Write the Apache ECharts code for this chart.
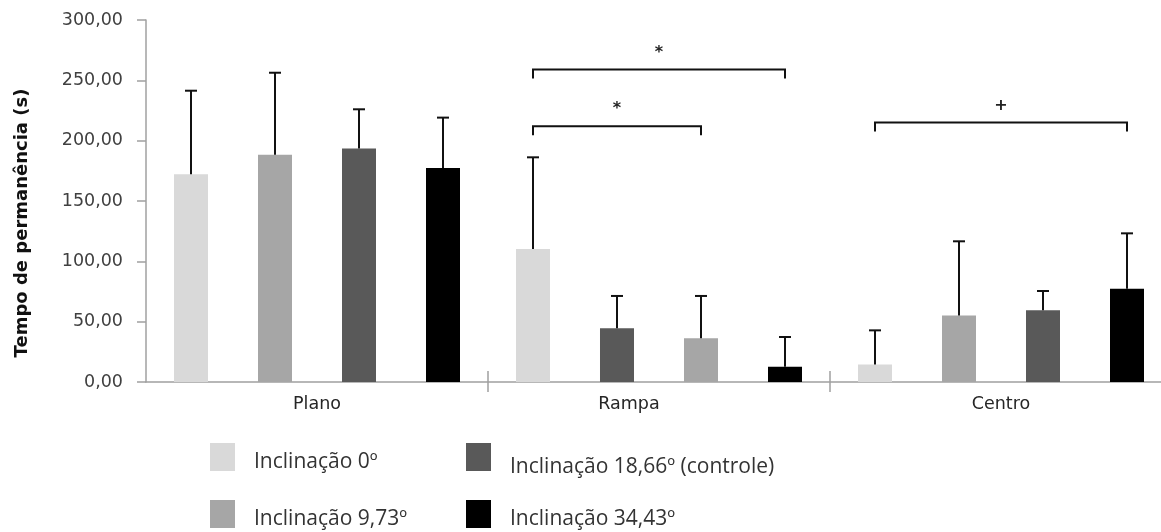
<!DOCTYPE html>
<html>
<head>
<meta charset="utf-8">
<script src="https://cdn.jsdelivr.net/npm/echarts@6/dist/echarts.min.js"></script>
<style>
  html, body { margin: 0; padding: 0; background: #ffffff; overflow: hidden; }
  #chart { width: 1172px; height: 532px; }
</style>
</head>
<body>
<div id="chart"></div>
<script>
// Arenas (categories) and inclinations
const categories = ['Plano', 'Rampa', 'Centro'];
const inclinations = ['Inclinação 0º', 'Inclinação 9,73º', 'Inclinação 18,66º (controle)', 'Inclinação 34,43º'];

// Mean time spent (s) per arena, one array per inclination
const mean0  = [172.1, 110.2, 14.4];
const mean9  = [188.4,  36.2, 55.2];
const mean18 = [193.6,  44.5, 59.4];
const mean34 = [177.3,  12.7, 77.3];

// Standard deviations (upper error bars)
const sd0  = [69.3, 76.0, 28.4];
const sd9  = [67.9, 35.1, 61.4];
const sd18 = [32.4, 26.8, 16.0];
const sd34 = [41.8, 24.6, 45.9];

// Which inclination sits in each bar slot, per arena
const slotOrder = [[0, 1, 2, 3], [0, 2, 1, 3], [0, 1, 2, 3]];

// Significance brackets: arena, first slot, last slot, bracket height (s), mark
const bracketArena = [1, 1, 2];
const bracketFrom  = [0, 0, 0];
const bracketTo    = [3, 2, 3];
const bracketLevel = [259, 212, 215];
const bracketMark  = ['*', '*', '+'];

// Y axis ticks
const yMin = 0, yMax = 300, yStep = 50;

const means = [mean0, mean9, mean18, mean34];
const sds = [sd0, sd9, sd18, sd34];
const palette = ['#d9d9d9', '#a6a6a6', '#595959', '#000000'];

const BAR_W = 34;
const GAP_PX = 50;
const STEP = BAR_W + GAP_PX;
function slotOffset(k) {
  const total = 4 * BAR_W + 3 * GAP_PX;
  return -total / 2 + BAR_W / 2 + k * STEP;
}

const barSeries = [0, 1, 2, 3].map(function (k) {
  return {
    type: 'bar',
    name: 'slot' + k,
    barWidth: BAR_W,
    barGap: (GAP_PX / BAR_W * 100).toFixed(2) + '%',
    data: categories.map(function (c, ci) {
      const inc = slotOrder[ci][k];
      return { value: means[inc][ci], itemStyle: { color: palette[inc] } };
    }),
    z: 2
  };
});

const errData = [];
categories.forEach(function (c, ci) {
  for (let k = 0; k < 4; k++) {
    const inc = slotOrder[ci][k];
    errData.push([ci, k, means[inc][ci], sds[inc][ci]]);
  }
});

const bracketData = bracketArena.map(function (a, i) {
  return [a, bracketFrom[i], bracketTo[i], bracketLevel[i], i];
});

const legendSeries = inclinations.map(function (name, i) {
  return { type: 'scatter', name: name, data: [], itemStyle: { color: palette[i], opacity: 1 } };
});

// Legend entries laid out as a 2 x 2 block under the plot
const legendPos = [[210, 443], [210, 500], [466, 443], [466, 500]];
const legendTextShift = [11, 11, 20, 11];
const legends = inclinations.map(function (name, i) {
  return {
    data: [name],
    left: legendPos[i][0],
    top: legendPos[i][1],
    padding: 0,
    icon: 'rect',
    itemWidth: 25,
    itemHeight: 28,
    selectedMode: false,
    formatter: '{t|{name}}',
    textStyle: {
      rich: {
        t: {
          fontFamily: 'Open Sans',
          fontSize: 21,
          color: '#333333',
          padding: [legendTextShift[i], 0, 0, 14]
        }
      }
    }
  };
});

// Boundary ticks between arenas, none at the axis origin
function skipFirstTick(index) { return index !== 0; }

const chart = echarts.init(document.getElementById('chart'), null, { renderer: 'canvas' });
chart.setOption({
  animation: false,
  backgroundColor: '#ffffff',
  grid: { left: 146, top: 20, width: 1026, height: 362, containLabel: false },
  legend: legends,
  xAxis: [
    {
      type: 'category',
      position: 'bottom',
      data: categories.map(function (c) {
        return c === 'Rampa' ? { value: c, textStyle: { padding: [0, 60, 0, 0] } } : c;
      }),
      axisLine: { lineStyle: { color: '#a0a0a0', width: 1.5 } },
      axisTick: { show: true, interval: skipFirstTick, length: 10, lineStyle: { color: '#a0a0a0', width: 1.5 } },
      axisLabel: { fontFamily: 'DejaVu Sans', fontSize: 17.5, color: '#262626', margin: 13 }
    },
    {
      type: 'category',
      position: 'bottom',
      data: categories,
      axisLine: { show: false },
      axisTick: { show: true, interval: skipFirstTick, inside: true, length: 11, lineStyle: { color: '#a0a0a0', width: 1.5 } },
      axisLabel: { show: false }
    }
  ],
  yAxis: {
    type: 'value',
    min: yMin,
    max: yMax,
    interval: yStep,
    axisLine: { show: true, lineStyle: { color: '#a0a0a0', width: 1.5 } },
    axisTick: { show: true, length: 9, lineStyle: { color: '#a0a0a0', width: 1.5 } },
    splitLine: { show: false },
    axisLabel: {
      fontFamily: 'DejaVu Sans',
      fontSize: 17.5,
      color: '#404040',
      margin: 23,
      formatter: function (v) { return v.toFixed(2).replace('.', ','); }
    }
  },
  graphic: [
    {
      type: 'text',
      x: 22,
      y: 223,
      rotation: Math.PI / 2,
      style: {
        text: 'Tempo de permanência (s)',
        fontFamily: 'DejaVu Sans',
        fontWeight: 'bold',
        fontSize: 18,
        fill: '#111111',
        textAlign: 'center',
        textVerticalAlign: 'middle'
      }
    }
  ],
  series: barSeries.concat([
    {
      type: 'custom',
      name: 'erro',
      data: errData,
      encode: { x: 0, y: 2 },
      z: 3,
      clip: false,
      renderItem: function (params, api) {
        const ci = api.value(0);
        const k = api.value(1);
        const m = api.value(2);
        const s = api.value(3);
        const p0 = api.coord([ci, m]);
        const p1 = api.coord([ci, m + s]);
        const x = p0[0] + slotOffset(k);
        const st = { stroke: '#111111', lineWidth: 2 };
        return {
          type: 'group',
          children: [
            { type: 'line', shape: { x1: x, y1: p0[1], x2: x, y2: p1[1] }, style: st },
            { type: 'line', shape: { x1: x - 6, y1: p1[1], x2: x + 6, y2: p1[1] }, style: st }
          ]
        };
      }
    },
    {
      type: 'custom',
      name: 'significancia',
      data: bracketData,
      encode: { x: 0, y: 3 },
      z: 3,
      clip: false,
      renderItem: function (params, api) {
        const a = api.value(0);
        const f = api.value(1);
        const t = api.value(2);
        const lv = api.value(3);
        const idx = api.value(4);
        const p = api.coord([a, lv]);
        const x1 = p[0] + slotOffset(f);
        const x2 = p[0] + slotOffset(t);
        const y = p[1];
        const st = { stroke: '#111111', lineWidth: 2, fill: null };
        return {
          type: 'group',
          children: [
            {
              type: 'polyline',
              shape: { points: [[x1, y + 9], [x1, y], [x2, y], [x2, y + 9]] },
              style: st
            },
            {
              type: 'text',
              style: {
                x: (x1 + x2) / 2,
                y: y - 17,
                text: bracketMark[idx],
                fontFamily: 'DejaVu Sans',
                fontWeight: 'bold',
                fontSize: 16,
                fill: '#222222',
                textAlign: 'center',
                textVerticalAlign: 'middle'
              }
            }
          ]
        };
      }
    }
  ]).concat(legendSeries)
});
</script>
</body>
</html>
